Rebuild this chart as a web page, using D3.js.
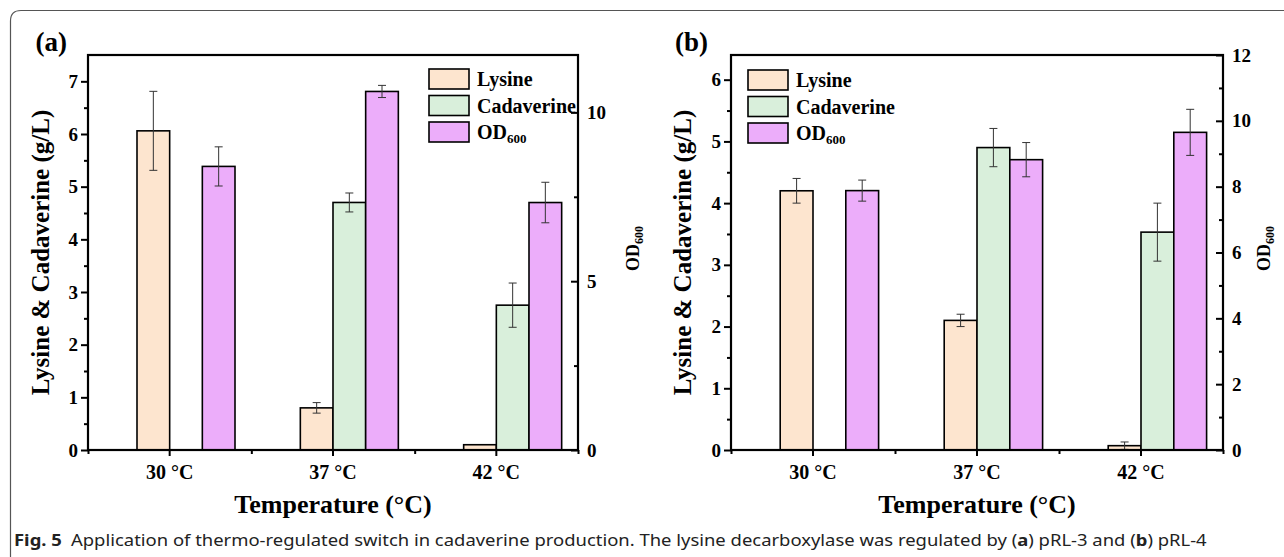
<!DOCTYPE html>
<html>
<head>
<meta charset="utf-8">
<script src="https://cdn.jsdelivr.net/npm/d3@7/dist/d3.min.js"></script>
<style>
  body { margin: 0; background: #fff; }
  svg text { font-family: "Liberation Serif", "Times New Roman", serif; font-weight: bold; fill: #000; }
  svg text.caption { font-family: "Noto Sans", "Open Sans", sans-serif; font-weight: normal; fill: #222; }
</style>
</head>
<body>
<script>
// categories and series
var categories = ["30 \u00B0C", "37 \u00B0C", "42 \u00B0C"];
var seriesNames = ["Lysine", "Cadaverine", "OD600"];

// panel (a) : pRL-3
var lysineA = [6.06, 0.80, 0.10];
var lysineErrA = [0.75, 0.10, 0];
var cadA = [0, 4.70, 2.75];
var cadErrA = [0, 0.18, 0.42];
var odA = [8.40, 10.62, 7.33];
var odErrA = [0.58, 0.18, 0.60];

// panel (b) : pRL-4
var lysineB = [4.20, 2.10, 0.07];
var lysineErrB = [0.20, 0.10, 0.06];
var cadB = [0, 4.90, 3.53];
var cadErrB = [0, 0.31, 0.47];
var odB = [7.88, 8.82, 9.65];
var odErrB = [0.32, 0.52, 0.70];

// tick labels
var leftTicksA = [0, 1, 2, 3, 4, 5, 6, 7];
var rightTicksA = [0, 5, 10];
var leftTicksB = [0, 1, 2, 3, 4, 5, 6];
var rightTicksB = [0, 2, 4, 6, 8, 10, 12];

var color = d3.scaleOrdinal()
    .domain(seriesNames)
    .range(["#fde5cf", "#d9efdb", "#ecadfa"]);

var W = 1284, H = 557;

var svg = d3.select("body").append("svg")
    .attr("width", W)
    .attr("height", H);

// outer figure border (rounded top-left corner)
svg.append("path")
    .attr("d", "M10.5," + H + " V21 Q10.5,10.5 21,10.5 H" + W)
    .attr("fill", "none")
    .attr("stroke", "#555")
    .attr("stroke-width", 1.2);

function drawPanel(p) {
  var width = p.right - p.left,
      height = p.bottom - p.top;

  var g = svg.append("g")
      .attr("transform", "translate(" + p.left + "," + p.top + ")");

  var x0 = d3.scaleBand()
      .domain(categories)
      .range([0, width])
      .padding(0);

  var w = x0.bandwidth() * 0.2;
  var x1 = d3.scaleBand()
      .domain(seriesNames)
      .range([x0.bandwidth() / 2 - w, x0.bandwidth() / 2 + 2 * w]);

  var yL = d3.scaleLinear().domain([0, p.leftMax]).range([height, 0]);
  var yR = d3.scaleLinear().domain([0, p.rightMax]).range([height, 0]);

  var rows = [];
  categories.forEach(function(c, i) {
    rows.push({cat: c, name: "Lysine", value: p.lys[i], err: p.lysErr[i], y: yL});
    rows.push({cat: c, name: "Cadaverine", value: p.cad[i], err: p.cadErr[i], y: yL});
    rows.push({cat: c, name: "OD600", value: p.od[i], err: p.odErr[i], y: yR});
  });
  rows = rows.filter(function(d) { return d.value > 0; });

  g.selectAll("rect.bar")
      .data(rows)
    .enter().append("rect")
      .attr("class", "bar")
      .attr("x", function(d) { return x0(d.cat) + x1(d.name); })
      .attr("width", w)
      .attr("y", function(d) { return d.y(d.value); })
      .attr("height", function(d) { return height - d.y(d.value); })
      .attr("fill", function(d) { return color(d.name); })
      .attr("stroke", "#000")
      .attr("stroke-width", 1.6);

  // error bars
  var eb = g.selectAll("g.err")
      .data(rows.filter(function(d) { return d.err > 0; }))
    .enter().append("g")
      .attr("class", "err")
      .attr("stroke", "#333")
      .attr("stroke-width", 1);

  var cx = function(d) { return x0(d.cat) + x1(d.name) + w / 2; };
  eb.append("line")
      .attr("x1", cx).attr("x2", cx)
      .attr("y1", function(d) { return d.y(d.value + d.err); })
      .attr("y2", function(d) { return d.y(d.value - d.err); });
  [1, -1].forEach(function(s) {
    eb.append("line")
        .attr("x1", function(d) { return cx(d) - 4; })
        .attr("x2", function(d) { return cx(d) + 4; })
        .attr("y1", function(d) { return d.y(d.value + s * d.err); })
        .attr("y2", function(d) { return d.y(d.value + s * d.err); });
  });

  // axes
  var minorLeft = d3.range(0.5, p.leftMax, 1);
  var minorRight = p.rightMinor;
  var minorBottom = [0, x0.bandwidth(), 2 * x0.bandwidth(), width];
  var fmt = d3.format("d");

  g.append("g")
      .attr("class", "axis")
      .call(d3.axisLeft(yL).tickValues(p.leftTicks).tickFormat(fmt).tickSize(7).tickPadding(3))
      .call(function(a) { a.select(".domain").remove(); });
  g.append("g")
      .call(d3.axisLeft(yL).tickValues(minorLeft).tickSize(4).tickFormat(""))
      .call(function(a) { a.select(".domain").remove(); });

  g.append("g")
      .attr("transform", "translate(" + width + ",0)")
      .call(d3.axisRight(yR).tickValues(p.rightTicks).tickFormat(fmt).tickSizeInner(-7).tickSizeOuter(0).tickPadding(9))
      .call(function(a) { a.select(".domain").remove(); });
  g.append("g")
      .attr("transform", "translate(" + width + ",0)")
      .call(d3.axisRight(yR).tickValues(minorRight).tickSizeInner(-4).tickSizeOuter(0).tickFormat(""))
      .call(function(a) { a.select(".domain").remove(); });

  g.append("g")
      .attr("class", "xaxis")
      .attr("transform", "translate(0," + height + ")")
      .call(d3.axisBottom(x0).tickSize(6).tickPadding(9))
      .call(function(a) { a.select(".domain").remove(); });
  var xm = d3.scaleLinear().domain([0, width]).range([0, width]);
  g.append("g")
      .attr("transform", "translate(0," + height + ")")
      .call(d3.axisBottom(xm).tickValues(minorBottom).tickSize(4).tickFormat(""))
      .call(function(a) { a.select(".domain").remove(); });

  g.selectAll(".tick line").attr("stroke", "#000").attr("stroke-width", 2);
  g.selectAll(".tick text").style("font-size", "19px");
  g.selectAll(".xaxis .tick text").style("font-size", "20px");

  // frame
  g.append("rect")
      .attr("width", width)
      .attr("height", height)
      .attr("fill", "none")
      .attr("stroke", "#000")
      .attr("stroke-width", 2.2);

  // titles
  g.append("text")
      .attr("x", p.labelX)
      .attr("y", -4)
      .attr("text-anchor", "end")
      .style("font-size", "27px")
      .text(p.label);

  g.append("text")
      .attr("transform", "translate(" + p.yTitleX + "," + (height / 2) + ") rotate(-90)")
      .attr("text-anchor", "middle")
      .attr("dy", "0.35em")
      .style("font-size", "25px")
      .text("Lysine & Cadaverine (g/L)");

  var od = g.append("text")
      .attr("transform", "translate(" + (width + p.odTitleX) + "," + (height / 2 - 4) + ") rotate(-90)")
      .attr("text-anchor", "middle")
      .attr("dy", "0.35em")
      .style("font-size", "18px");
  od.append("tspan").text("OD");
  od.append("tspan").attr("dy", "0.3em").style("font-size", "12px").text("600");

  g.append("text")
      .attr("x", width / 2)
      .attr("y", height + 63)
      .attr("text-anchor", "middle")
      .style("font-size", "26px")
      .text("Temperature (\u00B0C)");

  // legend
  var legend = g.selectAll(".legend")
      .data(seriesNames)
    .enter().append("g")
      .attr("class", "legend")
      .attr("transform", function(d, i) { return "translate(" + p.legendX + "," + (p.legendY + i * 26.5) + ")"; });

  legend.append("rect")
      .attr("width", 40)
      .attr("height", 20)
      .attr("fill", function(d) { return color(d); })
      .attr("stroke", "#000")
      .attr("stroke-width", 1.6);

  var lt = legend.append("text")
      .attr("x", 48)
      .attr("y", 17)
      .style("font-size", "20px");
  lt.append("tspan").text(function(d) { return d === "OD600" ? "OD" : d; });
  lt.filter(function(d) { return d === "OD600"; })
    .append("tspan").attr("dy", "0.3em").style("font-size", "13px").text("600");
}

drawPanel({
  left: 88, right: 578, top: 55, bottom: 450,
  label: "(a)", labelX: -21,
  leftMax: 7.5, rightMax: 11.7,
  leftTicks: leftTicksA, rightTicks: rightTicksA, rightMinor: [2.5, 7.5],
  lys: lysineA, lysErr: lysineErrA, cad: cadA, cadErr: cadErrA, od: odA, odErr: odErrA,
  yTitleX: -48, odTitleX: 55,
  legendX: 341, legendY: 14
});

drawPanel({
  left: 731, right: 1223, top: 55, bottom: 450,
  label: "(b)", labelX: -23,
  leftMax: 6.4, rightMax: 12,
  leftTicks: leftTicksB, rightTicks: rightTicksB, rightMinor: [1, 3, 5, 7, 9, 11],
  lys: lysineB, lysErr: lysineErrB, cad: cadB, cadErr: cadErrB, od: odB, odErr: odErrB,
  yTitleX: -49, odTitleX: 41,
  legendX: 17, legendY: 15
});

// caption
var cap = svg.append("text")
    .attr("class", "caption")
    .attr("x", 14)
    .attr("y", 546)
    .style("font-size", "16px");
cap.append("tspan").style("font-weight", "bold").text("Fig. 5");
cap.append("tspan").text("\u2002Application of thermo-regulated switch in cadaverine production. The lysine decarboxylase was regulated by (");
cap.append("tspan").style("font-weight", "bold").text("a");
cap.append("tspan").text(") pRL-3 and (");
cap.append("tspan").style("font-weight", "bold").text("b");
cap.append("tspan").text(") pRL-4");

var capLen = cap.node().getComputedTextLength();
var capTarget = 1194;
cap.attr("transform", "translate(14,0) scale(" + (capTarget / capLen) + ",1) translate(-14,0)");
</script>
</body>
</html>
